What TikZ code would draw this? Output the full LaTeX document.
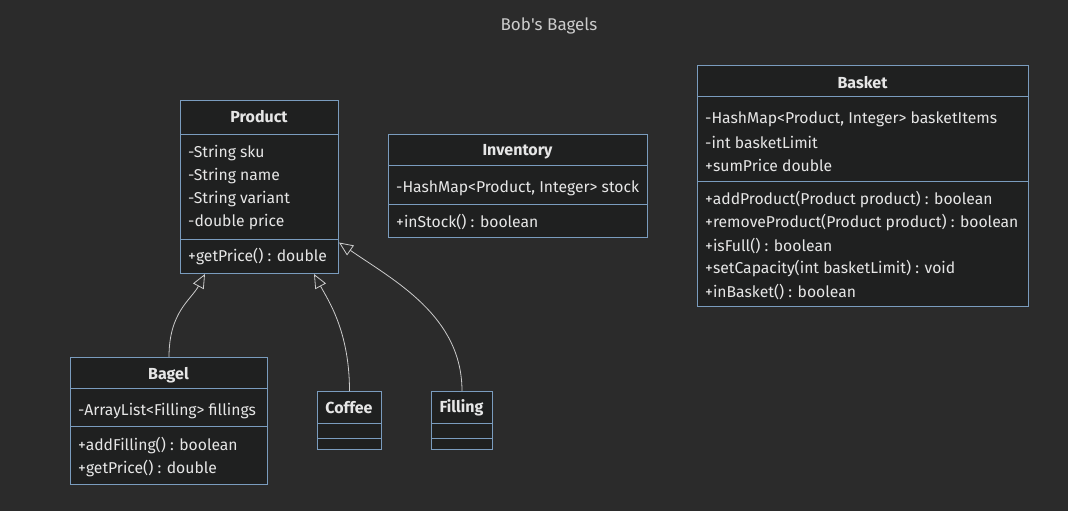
\documentclass[tikz,border=0pt]{standalone}
\usepackage{fontspec}
\setmainfont{Fira Sans}
\usetikzlibrary{arrows.meta}

\definecolor{bgcol}{HTML}{2B2B2B}
\definecolor{boxfill}{HTML}{1F2020}
\definecolor{boxline}{HTML}{7A9CBE}
\definecolor{txtcol}{HTML}{E6E6E6}
\definecolor{edgecol}{HTML}{CCCCCC}

\tikzset{
  classbox/.style={draw=boxline, fill=boxfill, line width=1pt, anchor=north west, inner sep=0pt},
  classline/.style={draw=boxline, line width=1pt},
  classtitle/.style={text=txtcol, font=\fontsize{16}{18}\selectfont\bfseries, inner sep=0pt},
  member/.style={text=txtcol, font=\fontsize{15.7}{18}\selectfont, anchor=west, inner sep=0pt},
  inherit/.style={draw=edgecol, line width=0.8pt,
    -{Triangle[open, length=14pt, width=12pt, fill=bgcol]}}
}

\begin{document}
\begin{tikzpicture}[x=1pt, y=-1pt]
    % Hintergrund
    \fill[bgcol] (0,0) rectangle (1068,511);
    \useasboundingbox (0,0) rectangle (1068,511);

    \node[text=edgecol, font=\fontsize{17}{19}\selectfont, inner sep=0pt] (title) at (549,26) {Bob\textquotesingle s Bagels};

    % Product
    \node[classbox, minimum width=158pt, minimum height=173pt] (product) at (180,100) {};
    \draw[classline] (product.west |- 0,134) -- (product.east |- 0,134);
    \draw[classline] (product.west |- 0,239) -- (product.east |- 0,239);
    \node[classtitle] (product-t) at (259,117) {Product};
    \node[member] (product-a1) at (188,153) {-String sku};
    \node[member] (product-a2) at (188,176) {-String name};
    \node[member] (product-a3) at (188,199) {-String variant};
    \node[member] (product-a4) at (188,222) {-double price};
    \node[member] (product-m1) at (188,257) {+getPrice() : double};

    % Inventory
    \node[classbox, minimum width=259pt, minimum height=103pt] (inventory) at (388,134) {};
    \draw[classline] (inventory.west |- 0,165) -- (inventory.east |- 0,165);
    \draw[classline] (inventory.west |- 0,204) -- (inventory.east |- 0,204);
    \node[classtitle] (inventory-t) at (517.5,152) {Inventory};
    \node[member] (inventory-a1) at (396,188) {-HashMap<Product, Integer> stock};
    \node[member] (inventory-m1) at (396,222) {+inStock() : boolean};

    % Basket
    \node[classbox, minimum width=331pt, minimum height=241pt] (basket) at (697,65) {};
    \draw[classline] (basket.west |- 0,96) -- (basket.east |- 0,96);
    \draw[classline] (basket.west |- 0,181) -- (basket.east |- 0,181);
    \node[classtitle] (basket-t) at (862.5,83) {Basket};
    \node[member] (basket-a1) at (705,119) {-HashMap<Product, Integer> basketItems};
    \node[member] (basket-a2) at (705,142) {-int basketLimit};
    \node[member] (basket-a3) at (705,165) {+sumPrice double};
    \node[member] (basket-m1) at (705,200) {+addProduct(Product product) : boolean};
    \node[member] (basket-m2) at (705,223) {+removeProduct(Product product) : boolean};
    \node[member] (basket-m3) at (705,246) {+isFull() : boolean};
    \node[member] (basket-m4) at (705,269) {+setCapacity(int basketLimit) : void};
    \node[member] (basket-m5) at (705,292) {+inBasket() : boolean};

    % Bagel
    \node[classbox, minimum width=197pt, minimum height=127pt] (bagel) at (70,357) {};
    \draw[classline] (bagel.west |- 0,388) -- (bagel.east |- 0,388);
    \draw[classline] (bagel.west |- 0,426) -- (bagel.east |- 0,426);
    \node[classtitle] (bagel-t) at (168.5,375) {Bagel};
    \node[member] (bagel-a1) at (78,411) {-ArrayList<Filling> fillings};
    \node[member] (bagel-m1) at (78,446) {+addFilling() : boolean};
    \node[member] (bagel-m2) at (78,469) {+getPrice() : double};

    % Coffee
    \node[classbox, minimum width=64pt, minimum height=58pt] (coffee) at (317,391) {};
    \draw[classline] (coffee.west |- 0,423) -- (coffee.east |- 0,423);
    \draw[classline] (coffee.west |- 0,438) -- (coffee.east |- 0,438);
    \node[classtitle] (coffee-t) at (349,408) {Coffee};

    % Filling
    \node[classbox, minimum width=61pt, minimum height=58pt] (filling) at (431,391) {};
    \draw[classline] (filling.west |- 0,423) -- (filling.east |- 0,423);
    \draw[classline] (filling.west |- 0,438) -- (filling.east |- 0,438);
    \node[classtitle] (filling-t) at (461.5,408) {Filling};

    % Vererbung
    \draw[inherit] (bagel.north) .. controls +(0,-45) and +(-14,26) .. ([xshift=25pt]product.south west);
    \draw[inherit] (coffee.north) .. controls +(0,-60) and +(14,26) .. ([xshift=-25pt]product.south east);
    \draw[inherit] (filling.north) .. controls +(0,-75) and +(55,38) .. ([yshift=-55.5pt]product.east);
\end{tikzpicture}
\end{document}
